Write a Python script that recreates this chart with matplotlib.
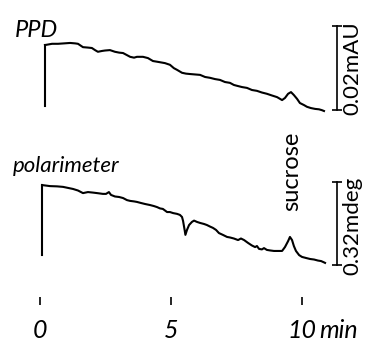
import matplotlib
matplotlib.use('Agg')
import matplotlib.pyplot as plt

plt.rcParams['font.family'] = ['Lato', 'DejaVu Sans']

# PPD trace: time (min) vs signal (mAU)
ppd_t = [0.19, 0.46, 0.69, 0.92, 1.15, 1.34, 1.45, 1.64, 1.83, 1.98, 2.10, 2.21, 2.37, 2.48,
         2.67, 2.86, 3.02, 3.17, 3.32, 3.44, 3.59, 3.70, 3.93, 4.12, 4.31, 4.50, 4.77, 4.96,
         5.11, 5.23, 5.42, 5.57, 5.73, 5.92, 6.11, 6.30, 6.49, 6.68, 6.87, 7.06, 7.25, 7.40,
         7.52, 7.71, 7.90, 8.09, 8.28, 8.47, 8.66, 8.85, 9.05, 9.24, 9.35, 9.47, 9.58, 9.69,
         9.81, 9.92, 10.08, 10.19, 10.34, 10.50, 10.65, 10.76, 10.84]
ppd_v = [0.0157, 0.0160, 0.0160, 0.0161, 0.0162, 0.0161, 0.0160, 0.0152, 0.0151, 0.0150,
         0.0145, 0.0141, 0.0143, 0.0144, 0.0145, 0.0141, 0.0139, 0.0138, 0.0133, 0.0129,
         0.0127, 0.0129, 0.0129, 0.0126, 0.0119, 0.0117, 0.0114, 0.0110, 0.0102, 0.0098,
         0.0091, 0.0089, 0.0088, 0.0087, 0.0086, 0.0081, 0.0079, 0.0076, 0.0074, 0.0069,
         0.0067, 0.0062, 0.0060, 0.0057, 0.0055, 0.0050, 0.0048, 0.0044, 0.0041, 0.0037,
         0.0033, 0.0026, 0.0031, 0.0041, 0.0045, 0.0038, 0.0029, 0.0019, 0.0014, 0.0010,
         0.0007, 0.0005, 0.0004, 0.0002, 0.0000]

# polarimeter trace: time (min) vs rotation (mdeg)
pol_t = [0.08, 0.38, 0.65, 0.88, 1.07, 1.26, 1.45, 1.64, 1.83, 2.02, 2.18, 2.40, 2.52, 2.63,
         2.71, 2.86, 3.02, 3.17, 3.32, 3.44, 3.59, 3.70, 3.85, 4.01, 4.20, 4.35, 4.47, 4.58,
         4.69, 4.85, 4.96, 5.08, 5.23, 5.34, 5.42, 5.46, 5.52, 5.55, 5.61, 5.69, 5.80, 5.88,
         5.99, 6.11, 6.26, 6.37, 6.49, 6.60, 6.72, 6.83, 6.98, 7.14, 7.25, 7.40, 7.56, 7.67,
         7.79, 7.94, 8.09, 8.21, 8.28, 8.36, 8.47, 8.55, 8.66, 8.78, 8.93, 9.08, 9.24, 9.35,
         9.47, 9.54, 9.62, 9.69, 9.77, 9.89, 10.00, 10.15, 10.31, 10.46, 10.61, 10.73, 10.84,
         10.88]
pol_v = [0.312, 0.308, 0.307, 0.305, 0.301, 0.297, 0.291, 0.281, 0.285, 0.283, 0.281, 0.278,
         0.278, 0.285, 0.274, 0.268, 0.266, 0.262, 0.254, 0.251, 0.249, 0.247, 0.243, 0.239,
         0.235, 0.231, 0.227, 0.222, 0.220, 0.208, 0.208, 0.204, 0.201, 0.197, 0.189, 0.174,
         0.139, 0.120, 0.139, 0.158, 0.170, 0.175, 0.170, 0.166, 0.162, 0.158, 0.152, 0.147,
         0.139, 0.127, 0.120, 0.112, 0.110, 0.106, 0.100, 0.106, 0.100, 0.089, 0.079, 0.073,
         0.077, 0.066, 0.064, 0.069, 0.062, 0.060, 0.058, 0.058, 0.058, 0.073, 0.096, 0.112,
         0.100, 0.077, 0.058, 0.042, 0.035, 0.031, 0.027, 0.025, 0.021, 0.019, 0.014, 0.012]

time_ticks = [0, 5, 10]
time_labels = ['0', '5', '10']
ppd_scale = 0.02   # mAU
pol_scale = 0.32   # mdeg

fig = plt.figure(figsize=(3.77, 3.48), dpi=100)
xlim = (-1.527, 12.863)

# top panel (PPD)
ax1 = fig.add_axes([0, 0.6552, 1, 0.3161])
ax1.set_xlim(xlim)
ax1.set_ylim(-0.00214, 0.02405)
ax1.plot(ppd_t, ppd_v, color='black', lw=1.5, solid_joinstyle='round')
ax1.plot([ppd_t[0], ppd_t[0]], [ppd_v[0], 0.0012], color='black', lw=1.5)
ax1.plot([11.34, 11.34], [0.0002, 0.0002 + ppd_scale], color='black', lw=1.2)
ax1.hlines([0.0002, 0.0002 + ppd_scale], 11.16, 11.52, color='black', lw=1.2)
ax1.text(-0.95, 0.0176, 'PPD', fontsize=17, style='italic', va='baseline', ha='left')
ax1.text(11.93, 0.0102, '0.02mAU', fontsize=16, rotation=90, va='center', ha='center')
ax1.axis('off')

# bottom panel (polarimeter) with time axis
ax2 = fig.add_axes([0, 0.14655, 1, 0.5086])
ax2.set_xlim(xlim)
ax2.set_ylim(-0.1195, 0.5628)
ax2.patch.set_alpha(0)
ax2.plot(pol_t, pol_v, color='black', lw=1.5, solid_joinstyle='round')
ax2.plot([pol_t[0], pol_t[0]], [pol_v[0], 0.042], color='black', lw=1.5)
ax2.plot([11.34, 11.34], [0.004, 0.004 + pol_scale], color='black', lw=1.2)
ax2.hlines([0.004, 0.004 + pol_scale], 11.16, 11.52, color='black', lw=1.2)
ax2.text(-1.05, 0.362, 'polarimeter', fontsize=16, style='italic', va='baseline', ha='left')
ax2.text(9.62, 0.366, 'sucrose', fontsize=17, rotation=90, va='center', ha='center')
ax2.text(11.93, 0.155, '0.32mdeg', fontsize=16, rotation=90, va='center', ha='center')

for s in ax2.spines.values():
    s.set_visible(False)
ax2.set_yticks([])
ax2.set_xticks(time_ticks)
ax2.set_xticklabels(time_labels, fontsize=18, style='italic')
ax2.tick_params(axis='x', direction='out', length=5.5, width=1.2, pad=10)
ax2.text(10.66, -0.278, 'min', fontsize=18, style='italic', va='baseline', ha='left')

fig.savefig('out.png', dpi=100)
